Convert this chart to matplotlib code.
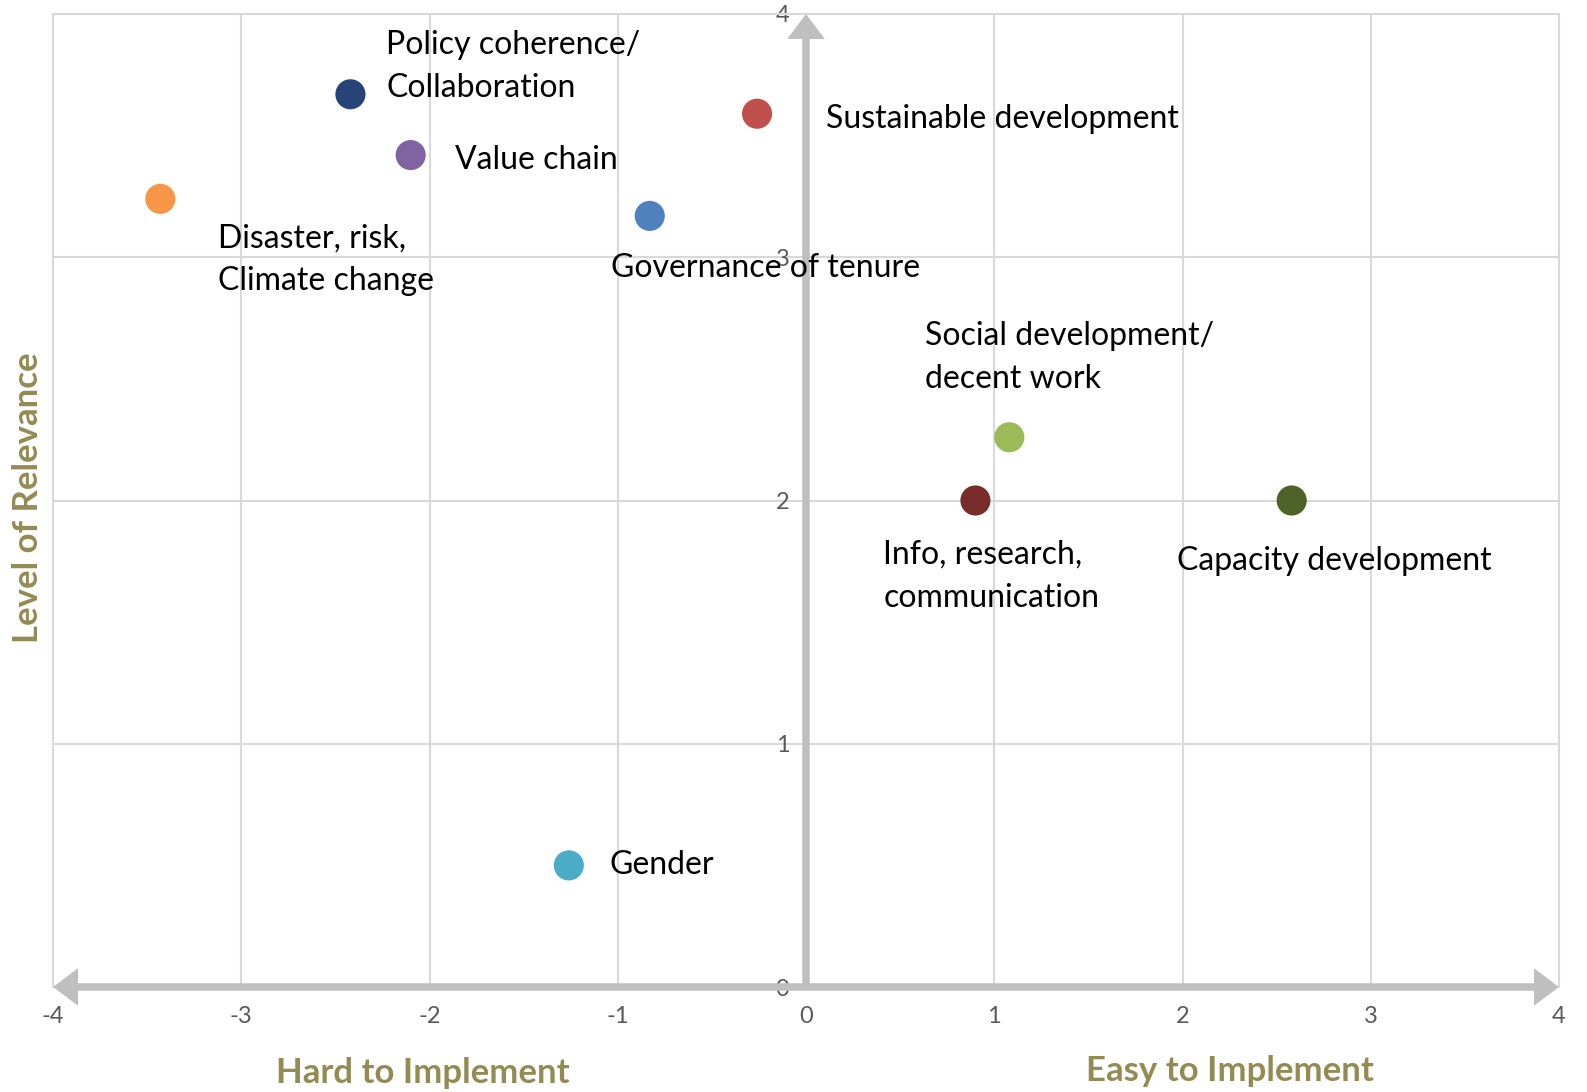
import matplotlib

matplotlib.use("Agg")
import matplotlib.pyplot as plt
from matplotlib.patches import FancyArrowPatch

plt.rcParams["font.family"] = ["Lato", "DejaVu Sans"]
plt.rcParams["axes.unicode_minus"] = False

# topics: (ease of implementation, level of relevance)
topics = [
    "Policy coherence/\nCollaboration",
    "Sustainable development",
    "Value chain",
    "Disaster, risk,\nClimate change",
    "Governance of tenure",
    "Social development/\ndecent work",
    "Info, research,\ncommunication",
    "Capacity development",
    "Gender",
]
ease = [-2.42, -0.26, -2.10, -3.43, -0.83, 1.08, 0.90, 2.58, -1.26]
relevance = [3.67, 3.59, 3.42, 3.24, 3.17, 2.26, 2.00, 2.00, 0.50]
colors = ["#264478", "#C0504D", "#8064A2", "#F79646", "#4F81BD",
          "#9BBB59", "#772C2A", "#4F6228", "#4BACC6"]

x_ticks = [-4, -3, -2, -1, 0, 1, 2, 3, 4]
y_ticks = [0, 1, 2, 3, 4]

# label offsets from each point, in pixels
label_offsets = [(36, 28), (69, -5), (44, -5), (58, -61), (-39, -52),
                 (-84, 80), (-92, -76), (-115, -60), (41, 0)]

GRID = "#D9D9D9"
AXIS = "#BFBFBF"
OLIVE = "#948A54"

W, H = 1587, 1092
fig = plt.figure(figsize=(W / 100, H / 100), dpi=100)
ax = fig.add_axes([53 / W, 1 - 987 / H, (1559 - 53) / W, (987 - 14) / H])

ax.set_xlim(-4, 4)
ax.set_ylim(0, 4)
ax.set_xticks(x_ticks)
ax.set_yticks(y_ticks)
ax.grid(color=GRID, lw=1.5)
ax.set_axisbelow(True)

ax.spines["left"].set_position(("data", 0))
ax.spines["left"].set_color("none")
ax.spines["bottom"].set_color("none")
for side in ("top", "right"):
    ax.spines[side].set_color(GRID)
    ax.spines[side].set_linewidth(1.5)
ax.axvline(-4, color=GRID, lw=1.5, clip_on=False, zorder=0)

ax.tick_params(axis="x", length=0, pad=14, labelsize=17, labelcolor="#595959")
ax.tick_params(axis="y", length=0, pad=12, labelsize=17, labelcolor="#595959")

# quadrant arrows
style = "simple,head_length=18,head_width=27,tail_width=5.4"
for end in [(4, 0), (-4, 0), (0, 4)]:
    ax.add_patch(FancyArrowPatch((0, 0), end, arrowstyle=style, mutation_scale=1,
                                 color=AXIS, lw=0, shrinkA=0, shrinkB=0,
                                 clip_on=False, zorder=2))

ax.scatter(ease, relevance, s=470, c=colors, zorder=3, linewidths=0)

for name, x, y, off in zip(topics, ease, relevance, label_offsets):
    ax.annotate(name, (x, y), xytext=off, textcoords="offset pixels",
                ha="left", va="center", fontsize=23, linespacing=1.55,
                color="black", zorder=4)

fig.text(276 / W, 1 - 1073 / H, "Hard to Implement", color=OLIVE, fontsize=25,
         fontweight="bold", ha="left", va="center")
fig.text(1086 / W, 1 - 1071 / H, "Easy to Implement", color=OLIVE, fontsize=25,
         fontweight="bold", ha="left", va="center")
fig.text(28 / W, 1 - 643 / H, "Level of Relevance", color=OLIVE, fontsize=25,
         fontweight="bold", rotation=90, ha="center", va="bottom")

fig.savefig("out.png", dpi=100)
